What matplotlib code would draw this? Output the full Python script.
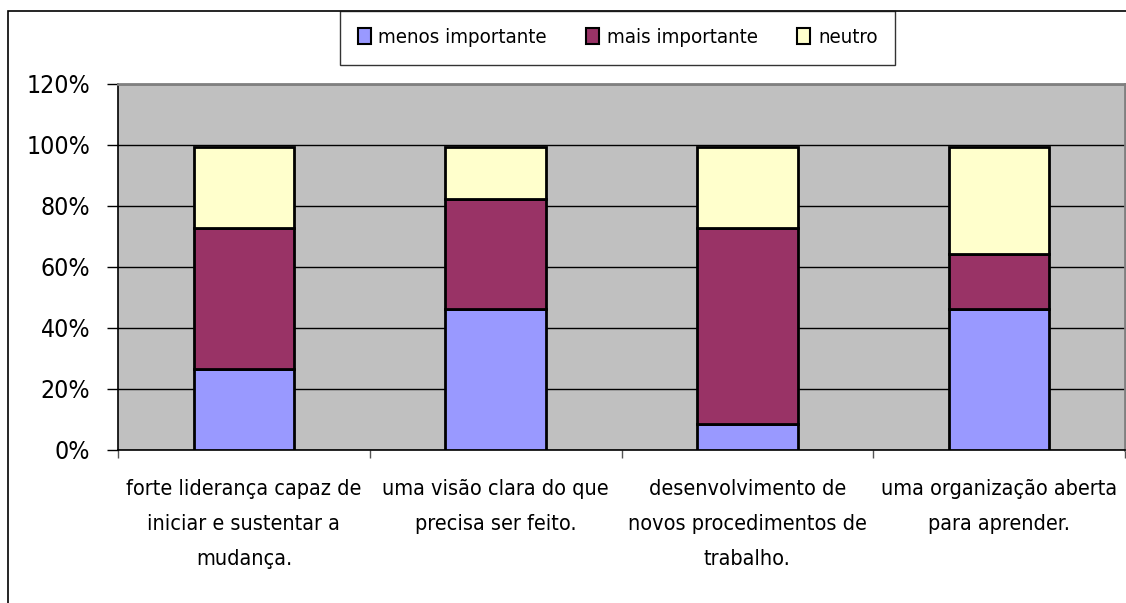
import os
import numpy as np
import matplotlib
matplotlib.use('Agg')
import matplotlib.pyplot as plt
from matplotlib import font_manager as fm
from matplotlib.patches import Rectangle
from matplotlib.ticker import FixedLocator, PercentFormatter

# dados (em %)
categorias = ['forte liderança capaz de\niniciar e sustentar a\nmudança.',
              'uma visão clara do que\nprecisa ser feito.',
              'desenvolvimento de\nnovos procedimentos de\ntrabalho.',
              'uma organização aberta\npara aprender.']
menos_importante = [26.4, 46.0, 8.4, 46.0]
mais_importante = [46.1, 36.0, 64.1, 18.0]
neutro = [26.8, 17.3, 26.8, 35.3]
rotulos_y = [0, 20, 40, 60, 80, 100, 120]


def fonte_estreita():
    # o original usa uma fonte do tipo Arial Narrow
    regs = [f for f in fm.fontManager.ttflist
            if f.style == 'normal' and f.weight in (400, 'normal', 'regular', 'book')]
    for nome in ['Liberation Sans Narrow', 'Arial Narrow']:
        for f in regs:
            if f.name == nome:
                return fm.FontProperties(fname=f.fname)
    for f in regs:
        arq = os.path.basename(f.fname)
        if 'Sans' in arq and 'Condensed' in arq and 'Semi' not in arq and 'Extra' not in arq:
            return fm.FontProperties(fname=f.fname)
    return fm.FontProperties(family='Liberation Sans')


fonte = fonte_estreita()

W, H = 1126, 603
fig = plt.figure(figsize=(W / 100, H / 100), dpi=100)
renderer = fig.canvas.get_renderer()


def tamanho(texto, largura_px):
    t = fig.text(0, 0, texto, fontproperties=fonte, fontsize=20)
    w = t.get_window_extent(renderer).width
    t.remove()
    return 20 * largura_px / w


tam_y = tamanho('120%', 63.6)
tam_x = tamanho('forte liderança capaz de', 234.6)
tam_leg = tamanho('menos importante', 169)

ax = fig.add_axes([118 / W, 1 - 449.5 / H, (1125 - 118) / W, (449.5 - 83.5) / H])
ax.set_facecolor('#c0c0c0')

x = np.arange(len(categorias))
largura = 0.4
base = np.zeros(len(categorias))
series = [(menos_importante, '#9999ff', 'menos importante'),
          (mais_importante, '#993366', 'mais importante'),
          (neutro, '#ffffcc', 'neutro')]
for valores, cor, nome in series:
    ax.bar(x, valores, largura, bottom=base, color=cor, edgecolor='black',
           linewidth=2, label=nome, zorder=3)
    base = base + np.array(valores)

ax.set_xlim(-0.5, 3.5)
ax.set_ylim(0, 120)
ax.yaxis.set_major_locator(FixedLocator(rotulos_y))
ax.yaxis.set_major_formatter(PercentFormatter(decimals=0))
ax.grid(axis='y', color='black', linewidth=1, zorder=0)
ax.set_axisbelow(True)

px_x = tam_x * 100 / 72
ax.set_xticks(x)
ax.set_xticklabels(categorias, fontproperties=fonte, fontsize=tam_x,
                   linespacing=35 / (0.915 * px_x) * 35 / 32)
ax.set_xticks(np.arange(-0.5, 3.6, 1), minor=True)
ax.tick_params(axis='x', which='major', length=0, pad=21)
ax.tick_params(axis='x', which='minor', length=6, width=1, color='#555555')
ax.tick_params(axis='y', length=8, width=1, pad=12)
for t in ax.get_yticklabels():
    t.set_fontproperties(fonte)
    t.set_fontsize(tam_y)

for lado in ['top', 'right']:
    ax.spines[lado].set_color('#808080')
    ax.spines[lado].set_linewidth(2)
for lado in ['left', 'bottom']:
    ax.spines[lado].set_color('black')
    ax.spines[lado].set_linewidth(1.2)

# moldura da figura
fig.patches.append(Rectangle((8 / W, -0.1), 1.2, 1 - 10.7 / H + 0.1,
                             transform=fig.transFigure, fill=False,
                             edgecolor='black', linewidth=1.2, zorder=0))

px_leg = tam_leg * 100 / 72
prop_leg = fonte.copy()
prop_leg.set_size(tam_leg)
leg = fig.legend(loc='upper left', ncol=3,
                 bbox_to_anchor=(340 / W, 1 - 10.7 / H),
                 borderaxespad=0, prop=prop_leg, frameon=True, fancybox=False,
                 edgecolor='black', handlelength=13 / px_leg, handleheight=16 / px_leg,
                 handletextpad=8 / px_leg, columnspacing=39 / px_leg,
                 borderpad=17.5 / px_leg)
leg.get_frame().set_linewidth(1.0)
for h in leg.legend_handles:
    h.set_linewidth(1.5)

fig.savefig('out.png', dpi=100)
